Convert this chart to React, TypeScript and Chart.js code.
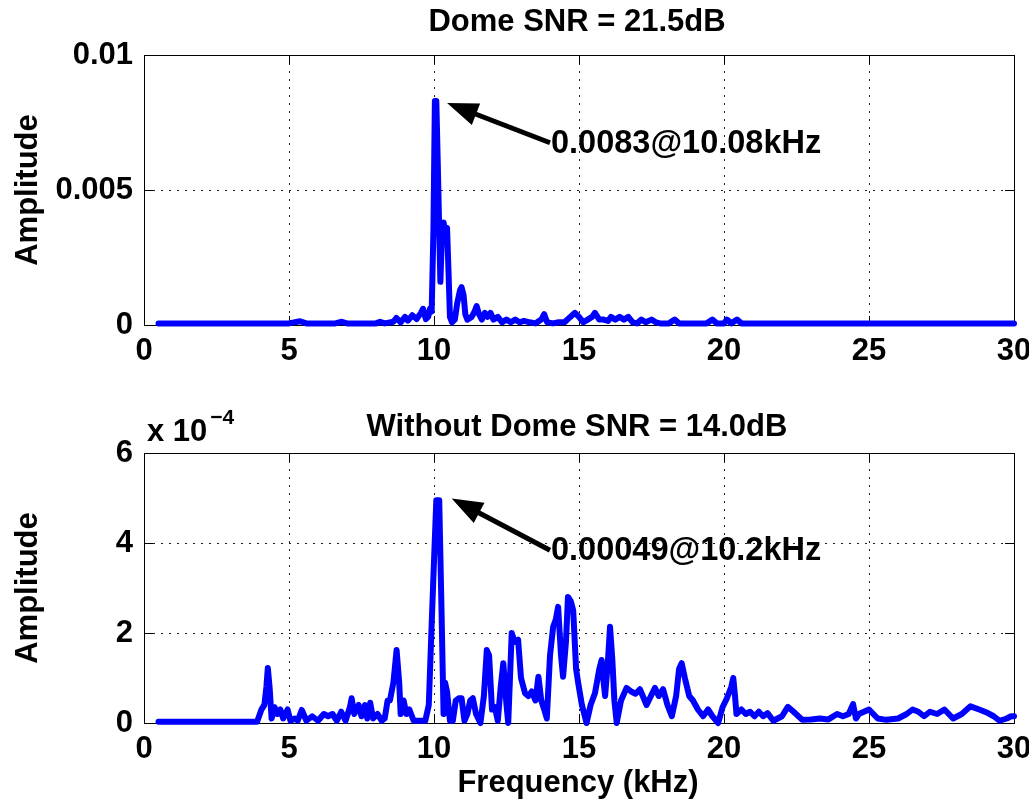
import React, { useEffect, useRef } from 'react';
import { Chart, registerables } from 'chart.js';

Chart.register(...registerables);

// ---------- data ----------
const topFreq = [
  0.5, 5.0, 5.38, 5.6, 6.6, 6.82, 7.0, 8.0, 8.14, 8.3, 8.6, 8.7, 8.85, 9.0, 9.1, 9.25, 9.4, 9.55, 9.62, 9.72,
  9.8, 9.86, 9.92, 9.98, 10.03, 10.08, 10.13, 10.18, 10.22, 10.27, 10.33, 10.4, 10.45, 10.5, 10.55, 10.62,
  10.72, 10.8, 10.9, 10.95, 11.02, 11.08, 11.15, 11.3, 11.4, 11.47, 11.55, 11.65, 11.75, 11.85, 11.95, 12.05,
  12.2, 12.35, 12.5, 12.65, 12.8, 12.95, 13.1, 13.3, 13.5, 13.7, 13.8, 13.9, 14.1, 14.3, 14.5, 14.7, 14.86,
  15.0, 15.15, 15.3, 15.45, 15.55, 15.7, 15.85, 16.0, 16.1, 16.25, 16.4, 16.55, 16.7, 16.85, 17.0, 17.15,
  17.3, 17.5, 17.65, 17.8, 18.1, 18.3, 18.45, 19.4, 19.6, 19.75, 20.0, 20.1, 20.25, 20.45, 20.6, 30.0,
];
const topAmp = [
  0.00006, 0.00006, 0.00014, 0.00006, 0.00006, 0.00012, 0.00006, 0.00006, 0.00012, 0.00006, 0.00012, 0.00026,
  0.0001, 0.0003, 0.00016, 0.00036, 0.00022, 0.00045, 0.0006, 0.00022, 0.0003, 0.0006, 0.0005, 0.0035, 0.0083,
  0.0083, 0.006, 0.0035, 0.0016, 0.0032, 0.0038, 0.0034, 0.0036, 0.002, 0.0003, 0.0001, 0.0002, 0.0008, 0.0013,
  0.0014, 0.0011, 0.0004, 0.0002, 0.0003, 0.0005, 0.0007, 0.0004, 0.0002, 0.00045, 0.0003, 0.00045, 0.0002,
  0.0003, 0.0001, 0.0002, 0.0001, 0.0002, 0.0001, 0.00015, 0.0001, 0.00006, 0.0002, 0.0004, 0.0001, 0.00006,
  0.0001, 0.0001, 0.0003, 0.00045, 0.0003, 0.0001, 0.0002, 0.0003, 0.00045, 0.0002, 0.0002, 0.00015, 0.0003,
  0.0002, 0.0003, 0.0002, 0.0003, 0.0001, 0.00006, 0.0002, 0.0001, 0.0002, 0.0001, 0.00006, 0.00006, 0.0002,
  0.00006, 0.00006, 0.0002, 0.00006, 0.00006, 0.0002, 0.00006, 0.0002, 0.00006, 0.00006,
];

// bottom amplitudes are in units of 1e-4
const bottomFreq = [
  0.5, 3.9, 4.05, 4.15, 4.22, 4.27, 4.33, 4.4, 4.5, 4.6, 4.7, 4.8, 4.95, 5.05, 5.2, 5.3, 5.44, 5.6, 5.8, 6.0,
  6.2, 6.35, 6.5, 6.65, 6.8, 6.95, 7.1, 7.16, 7.25, 7.4, 7.5, 7.62, 7.7, 7.8, 7.9, 8.05, 8.2, 8.3, 8.4, 8.48,
  8.6, 8.71, 8.8, 8.85, 8.95, 9.05, 9.15, 9.3, 9.7, 9.82, 9.92, 10.0, 10.08, 10.18, 10.25, 10.33, 10.38, 10.45,
  10.55, 10.65, 10.75, 10.85, 10.95, 11.05, 11.15, 11.25, 11.34, 11.45, 11.6, 11.72, 11.82, 11.9, 12.0, 12.1,
  12.2, 12.3, 12.39, 12.5, 12.56, 12.62, 12.68, 12.78, 12.9, 13.0, 13.14, 13.25, 13.37, 13.5, 13.6, 13.7, 13.8,
  13.89, 14.0, 14.11, 14.2, 14.28, 14.38, 14.45, 14.55, 14.62, 14.72, 14.8, 14.9, 14.97, 15.1, 15.26, 15.4,
  15.55, 15.7, 15.78, 15.85, 15.9, 16.0, 16.07, 16.15, 16.22, 16.3, 16.45, 16.64, 16.8, 16.95, 17.1, 17.2,
  17.33, 17.48, 17.62, 17.75, 17.9, 18.05, 18.2, 18.35, 18.45, 18.54, 18.65, 18.8, 18.93, 19.1, 19.28, 19.45,
  19.6, 19.8, 19.95, 20.1, 20.25, 20.32, 20.38, 20.43, 20.6, 20.75, 20.9, 21.05, 21.2, 21.35, 21.5, 21.7, 22.0,
  22.2, 22.4, 22.7, 23.0, 23.3, 23.6, 23.9, 24.1, 24.3, 24.45, 24.55, 24.65, 25.0, 25.3, 25.6, 26.0, 26.3, 26.5,
  26.7, 26.9, 27.1, 27.35, 27.6, 27.9, 28.2, 28.5, 28.8, 29.1, 29.3, 29.5, 29.75, 29.9, 30.0,
];
const bottomAmp = [
  0.03, 0.03, 0.3, 0.4, 0.8, 1.22, 0.8, 0.1, 0.35, 0.2, 0.3, 0.1, 0.3, 0.05, 0.1, 0.05, 0.29, 0.05, 0.15, 0.05,
  0.2, 0.15, 0.2, 0.05, 0.25, 0.05, 0.35, 0.55, 0.2, 0.4, 0.15, 0.4, 0.1, 0.45, 0.1, 0.2, 0.05, 0.1, 0.5, 0.5,
  0.9, 1.62, 0.9, 0.2, 0.5, 0.2, 0.3, 0.05, 0.05, 0.4, 2.2, 3.6, 4.95, 4.95, 2.8, 0.2, 0.9, 0.7,
  0.05, 0.05, 0.5, 0.55, 0.55, 0.05, 0.2, 0.5, 0.55, 0.2, 0.0, 0.6, 1.62, 1.5, 0.3, 0.35,
  0.05, 0.8, 1.33, 0.4, 0.0, 1.0, 2.0, 1.8, 1.85, 1.0, 0.66, 0.6, 0.7, 0.5, 1.03, 0.5, 0.3,
  0.1, 1.5, 2.14, 2.3, 2.58, 1.5, 1.03, 1.8, 2.8, 2.7, 2.5, 1.2, 0.9, 0.4, 0.0, 0.4,
  0.66, 1.2, 1.4, 0.9, 0.6, 1.4, 2.14, 1.4, 0.5, 0.0, 0.5, 0.78, 0.7, 0.65, 0.75, 0.6,
  0.4, 0.6, 0.78, 0.6, 0.75, 0.4, 0.15, 0.6, 1.2, 1.33, 1.0, 0.6, 0.5, 0.3, 0.15, 0.3,
  0.15, 0.0, 0.35, 0.55, 0.8, 1.0, 0.6, 0.2, 0.3, 0.2, 0.25, 0.15, 0.25, 0.15, 0.22, 0.05, 0.15,
  0.36, 0.25, 0.07, 0.08, 0.1, 0.08, 0.2, 0.15, 0.2, 0.42, 0.1, 0.2, 0.3, 0.1, 0.07, 0.1, 0.2, 0.3,
  0.25, 0.15, 0.25, 0.2, 0.3, 0.1, 0.2, 0.37, 0.3, 0.22, 0.15, 0.05, 0.1, 0.15, 0.15,
];

const xTicks = [0, 5, 10, 15, 20, 25, 30];
const topYTicks = [0, 0.005, 0.01];
const bottomYTicks = [0, 2, 4, 6];

const topTitle = 'Dome SNR = 21.5dB';
const bottomTitle = 'Without Dome SNR = 14.0dB';
const yLabel = 'Amplitude';
const xLabel = 'Frequency (kHz)';
const bottomExpBase = 'x 10';
const bottomExpPower = '\u22124';

const topNoteText = '0.0083@10.08kHz';
const topNoteTip = [10.45, 0.00822];
const topNoteTail = [14.0, 0.00675];
const bottomNoteText = '0.00049@10.2kHz';
const bottomNoteTip = [10.61, 4.99];
const bottomNoteTail = [14.0, 3.84];

// ---------- drawing helpers ----------
const FAMILY = "'Liberation Sans', Arial, Helvetica, sans-serif";
const FONT_SIZE = 31;
const NOTE_SIZE = 32.5;
const font = (size: number) => `bold ${size}px ${FAMILY}`;

type PanelCfg = {
  height: number;
  areaTop: number;
  areaBottom: number;
  freq: number[];
  amp: number[];
  yMax: number;
  yTicks: number[];
  yFormat: (v: number) => string;
  title: string;
  titleY: number;
  xLabelY?: number;
  exponent?: boolean;
  noteText: string;
  noteTip: number[];
  noteTail: number[];
};

function drawArrow(ctx: CanvasRenderingContext2D, tx: number, ty: number, ex: number, ey: number) {
  const ang = Math.atan2(ey - ty, ex - tx);
  const headLen = 31;
  const headHalf = 11.5;
  const c = Math.cos(ang);
  const s = Math.sin(ang);
  const bx = tx + headLen * c;
  const by = ty + headLen * s;
  ctx.save();
  ctx.strokeStyle = '#000';
  ctx.fillStyle = '#000';
  ctx.lineWidth = 5;
  ctx.beginPath();
  ctx.moveTo(bx - 2 * c, by - 2 * s);
  ctx.lineTo(ex, ey);
  ctx.stroke();
  ctx.beginPath();
  ctx.moveTo(tx, ty);
  ctx.lineTo(bx - headHalf * s, by + headHalf * c);
  ctx.lineTo(bx + headHalf * s, by - headHalf * c);
  ctx.closePath();
  ctx.fill();
  ctx.restore();
}

function buildChart(canvas: HTMLCanvasElement, cfg: PanelCfg) {
  const decor = {
    id: 'matlabDecor',
    beforeDatasetsDraw(chart: any) {
      const { ctx, chartArea: a, scales } = chart;
      ctx.save();
      ctx.strokeStyle = '#000';
      ctx.lineWidth = 1;
      const tl = 9;
      ctx.beginPath();
      xTicks.forEach((v) => {
        const px = Math.round(scales.x.getPixelForValue(v)) + 0.5;
        ctx.moveTo(px, a.top);
        ctx.lineTo(px, a.top + tl);
        ctx.moveTo(px, a.bottom);
        ctx.lineTo(px, a.bottom - tl);
      });
      cfg.yTicks.forEach((v) => {
        const py = Math.round(scales.y.getPixelForValue(v)) + 0.5;
        ctx.moveTo(a.left, py);
        ctx.lineTo(a.left + tl, py);
        ctx.moveTo(a.right, py);
        ctx.lineTo(a.right - tl, py);
      });
      ctx.stroke();
      ctx.strokeRect(Math.round(a.left) + 0.5, Math.round(a.top) + 0.5, Math.round(a.right - a.left), Math.round(a.bottom - a.top));
      ctx.restore();
    },
    afterDraw(chart: any) {
      const { ctx, chartArea: a, scales } = chart;
      ctx.save();
      ctx.fillStyle = '#000';
      ctx.textBaseline = 'middle';
      ctx.font = font(FONT_SIZE);
      ctx.textAlign = 'center';
      ctx.fillText(cfg.title, (a.left + a.right) / 2 - 2, cfg.titleY);
      if (cfg.xLabelY !== undefined) {
        ctx.fillText(xLabel, (a.left + a.right) / 2 - 1, cfg.xLabelY);
      }
      ctx.save();
      ctx.translate(28, (a.top + a.bottom) / 2);
      ctx.rotate(-Math.PI / 2);
      ctx.fillText(yLabel, 0, 0);
      ctx.restore();
      if (cfg.exponent) {
        ctx.textAlign = 'left';
        ctx.font = font(FONT_SIZE);
        ctx.fillText(bottomExpBase, a.left + 3, a.top - 21);
        const w = ctx.measureText(bottomExpBase).width;
        ctx.font = font(21);
        ctx.fillText(bottomExpPower, a.left + 3 + w + 3, a.top - 35);
      }
      const tx = scales.x.getPixelForValue(cfg.noteTip[0]);
      const ty = scales.y.getPixelForValue(cfg.noteTip[1]);
      const ex = scales.x.getPixelForValue(cfg.noteTail[0]);
      const ey = scales.y.getPixelForValue(cfg.noteTail[1]);
      drawArrow(ctx, tx, ty, ex, ey);
      ctx.font = font(NOTE_SIZE);
      ctx.textAlign = 'left';
      ctx.fillText(cfg.noteText, ex + 1, ey + 1);
      ctx.restore();
    },
  };

  return new Chart(canvas, {
    type: 'line',
    data: {
      datasets: [
        {
          data: cfg.freq.map((x, i) => ({ x, y: cfg.amp[i] })),
          borderColor: '#0000ff',
          borderWidth: 6,
          pointRadius: 0,
          tension: 0,
          fill: false,
          borderJoinStyle: 'round',
          borderCapStyle: 'round',
          clip: 4,
        } as any,
      ],
    },
    options: {
      animation: false,
      responsive: false,
      devicePixelRatio: 1,
      events: [],
      layout: { padding: { left: 0, right: 15, top: cfg.areaTop, bottom: 0 } },
      plugins: {
        legend: { display: false },
        tooltip: { enabled: false },
        title: { display: false },
      },
      scales: {
        x: {
          type: 'linear',
          min: 0,
          max: 30,
          afterBuildTicks: (scale: any) => {
            scale.ticks = xTicks.map((v) => ({ value: v }));
          },
          afterFit: (scale: any) => {
            scale.height = cfg.height - cfg.areaBottom;
            scale.paddingLeft = 0;
            scale.paddingRight = 0;
          },
          grid: { color: '#222', lineWidth: 1, drawTicks: false },
          border: { display: true, color: '#000', width: 1, dash: [2, 6] },
          ticks: {
            color: '#000',
            font: { family: FAMILY, size: FONT_SIZE, weight: 'bold' },
            padding: 8,
            maxRotation: 0,
            autoSkip: false,
            callback: (v: any) => String(v),
          },
        },
        y: {
          type: 'linear',
          min: 0,
          max: cfg.yMax,
          afterBuildTicks: (scale: any) => {
            scale.ticks = cfg.yTicks.map((v) => ({ value: v }));
          },
          afterFit: (scale: any) => {
            scale.width = 144;
            scale.paddingTop = 0;
            scale.paddingBottom = 0;
          },
          grid: { color: '#222', lineWidth: 1, drawTicks: false },
          border: { display: true, color: '#000', width: 1, dash: [2, 6] },
          ticks: {
            color: '#000',
            font: { family: FAMILY, size: FONT_SIZE, weight: 'bold' },
            padding: 11,
            autoSkip: false,
            callback: (v: any) => cfg.yFormat(Number(v)),
          },
        },
      },
    } as any,
    plugins: [decor],
  });
}

export default function App() {
  const topRef = useRef<HTMLCanvasElement>(null);
  const botRef = useRef<HTMLCanvasElement>(null);

  useEffect(() => {
    const c1 = buildChart(topRef.current!, {
      height: 400,
      areaTop: 55,
      areaBottom: 325,
      freq: topFreq,
      amp: topAmp,
      yMax: 0.01,
      yTicks: topYTicks,
      yFormat: (v) => (v === 0 ? '0' : String(Math.round(v * 1000) / 1000)),
      title: topTitle,
      titleY: 22,
      noteText: topNoteText,
      noteTip: topNoteTip,
      noteTail: topNoteTail,
    });
    const c2 = buildChart(botRef.current!, {
      height: 403,
      areaTop: 53,
      areaBottom: 323,
      freq: bottomFreq,
      amp: bottomAmp,
      yMax: 6,
      yTicks: bottomYTicks,
      yFormat: (v) => String(v),
      title: bottomTitle,
      titleY: 27,
      xLabelY: 383,
      exponent: true,
      noteText: bottomNoteText,
      noteTip: bottomNoteTip,
      noteTail: bottomNoteTail,
    });
    return () => {
      c1.destroy();
      c2.destroy();
    };
  }, []);

  return (
    <div style={{ position: 'absolute', left: 0, top: 0, width: 1029, height: 803, background: '#fff', overflow: 'hidden' }}>
      <canvas ref={topRef} width={1029} height={400} style={{ position: 'absolute', left: 0, top: 0, width: 1029, height: 400 }} />
      <canvas ref={botRef} width={1029} height={403} style={{ position: 'absolute', left: 0, top: 400, width: 1029, height: 403 }} />
    </div>
  );
}
